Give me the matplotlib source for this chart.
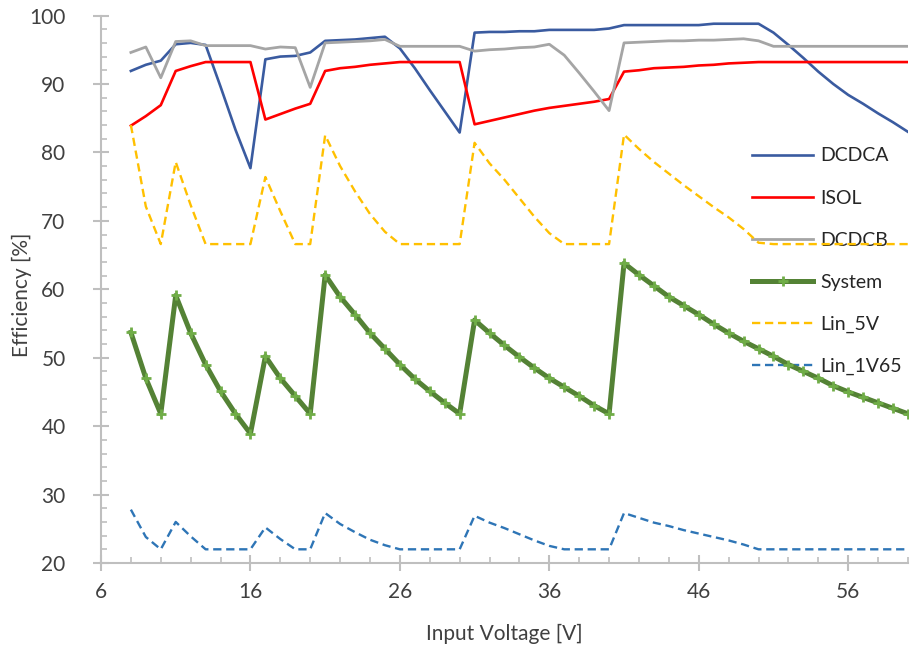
import matplotlib
matplotlib.use("Agg")
import matplotlib.pyplot as plt
from matplotlib.ticker import MultipleLocator, FixedLocator

# Tensão de entrada [V]
input_voltage = [8, 9, 10, 11, 12, 13, 14, 15, 16, 17, 18, 19, 20, 21, 22, 23, 24,
                 25, 26, 27, 28, 29, 30, 31, 32, 33, 34, 35, 36, 37, 38, 39, 40, 41,
                 42, 43, 44, 45, 46, 47, 48, 49, 50, 51, 52, 53, 54, 55, 56, 57, 58,
                 59, 60]

# Eficiências [%]
dcdca = [91.9, 92.8, 93.4, 95.8, 96.0, 95.7, 89.6, 83.3, 77.7, 93.6, 94.0, 94.1, 94.6,
         96.3, 96.4, 96.5, 96.7, 96.9, 95.2, 92.3, 89.1, 86.0, 82.9, 97.5, 97.6, 97.6,
         97.7, 97.7, 97.9, 97.9, 97.9, 97.9, 98.1, 98.6, 98.6, 98.6, 98.6, 98.6, 98.6,
         98.8, 98.8, 98.8, 98.8, 97.5, 95.7, 93.8, 91.8, 90.0, 88.4, 87.1, 85.7, 84.4,
         83.0]
isol = [83.9, 85.3, 86.9, 91.9, 92.6, 93.2, 93.2, 93.2, 93.2, 84.8, 85.6, 86.4, 87.1,
        91.9, 92.3, 92.5, 92.8, 93.0, 93.2, 93.2, 93.2, 93.2, 93.2, 84.1, 84.6, 85.1,
        85.6, 86.1, 86.5, 86.8, 87.1, 87.4, 87.8, 91.8, 92.0, 92.3, 92.4, 92.5, 92.7,
        92.8, 93.0, 93.1, 93.2, 93.2, 93.2, 93.2, 93.2, 93.2, 93.2, 93.2, 93.2, 93.2,
        93.2]
dcdcb = [94.6, 95.4, 90.9, 96.2, 96.3, 95.6, 95.6, 95.6, 95.6, 95.1, 95.4, 95.3, 89.5,
         96.0, 96.1, 96.2, 96.3, 96.5, 95.5, 95.5, 95.5, 95.5, 95.5, 94.8, 95.0, 95.1,
         95.3, 95.4, 95.8, 94.2, 91.6, 88.9, 86.1, 96.0, 96.1, 96.2, 96.3, 96.3, 96.4,
         96.4, 96.5, 96.6, 96.3, 95.5, 95.5, 95.5, 95.5, 95.5, 95.5, 95.5, 95.5, 95.5,
         95.5]
system = [53.7, 47.0, 41.8, 59.1, 53.6, 49.0, 45.1, 41.8, 38.9, 50.2, 47.0, 44.4, 41.8,
          62.1, 58.9, 56.3, 53.6, 51.3, 49.0, 46.9, 45.1, 43.4, 41.8, 55.5, 53.6, 51.8,
          50.1, 48.5, 47.0, 45.7, 44.4, 43.0, 41.8, 63.8, 62.1, 60.5, 58.9, 57.6, 56.3,
          54.9, 53.6, 52.4, 51.3, 50.2, 49.0, 48.0, 47.0, 45.9, 45.0, 44.2, 43.4, 42.6,
          41.8]
lin_5v = [84.0, 72.1, 66.6, 78.6, 72.3, 66.6, 66.6, 66.6, 66.6, 76.4, 71.4, 66.6, 66.6,
          82.5, 78.0, 74.3, 71.0, 68.4, 66.6, 66.6, 66.6, 66.6, 66.6, 81.4, 78.4, 76.0,
          73.3, 70.6, 68.2, 66.6, 66.6, 66.6, 66.6, 82.6, 80.5, 78.6, 76.9, 75.2, 73.6,
          72.0, 70.5, 68.8, 66.8, 66.6, 66.6, 66.6, 66.6, 66.6, 66.6, 66.6, 66.6, 66.6,
          66.6]
lin_1v65 = [27.8, 23.8, 22.0, 26.0, 23.9, 22.0, 22.0, 22.0, 22.0, 25.2, 23.5, 22.0, 22.0,
            27.3, 25.7, 24.5, 23.4, 22.6, 22.0, 22.0, 22.0, 22.0, 22.0, 26.9, 25.9, 25.1,
            24.2, 23.3, 22.5, 22.0, 22.0, 22.0, 22.0, 27.3, 26.6, 25.9, 25.4, 24.8, 24.3,
            23.8, 23.3, 22.7, 22.0, 22.0, 22.0, 22.0, 22.0, 22.0, 22.0, 22.0, 22.0, 22.0,
            22.0]

x_ticks = [6, 16, 26, 36, 46, 56]
y_ticks = [20, 30, 40, 50, 60, 70, 80, 90, 100]

plt.rcParams['font.family'] = ['Lato', 'DejaVu Sans']
cor_texto = '#404040'
cor_eixo = '#BFBFBF'

fig = plt.figure(figsize=(9.14, 6.52), dpi=100)
ax = fig.add_axes([0.1105, 0.1365, 0.8829, 0.8397])

ax.plot(input_voltage, dcdca, color='#3A5BA0', linewidth=1.9, label='DCDCA')
ax.plot(input_voltage, isol, color='#FF0000', linewidth=1.9, label='ISOL')
ax.plot(input_voltage, dcdcb, color='#A5A5A5', linewidth=2.0, label='DCDCB')
ax.plot(input_voltage, system, color='#548235', linewidth=3.6, marker='+',
        markersize=7, markeredgewidth=2, markeredgecolor='#70AD47', label='System')
ax.plot(input_voltage, lin_5v, color='#FFC000', linewidth=1.7,
        linestyle=(0, (3.5, 2)), label='Lin_5V')
ax.plot(input_voltage, lin_1v65, color='#2E75B6', linewidth=1.7,
        linestyle=(0, (3.5, 2)), label='Lin_1V65')

ax.set_xlim(6, 60)
ax.set_ylim(20, 100)
ax.xaxis.set_major_locator(FixedLocator(x_ticks))
ax.xaxis.set_minor_locator(MultipleLocator(2))
ax.yaxis.set_major_locator(FixedLocator(y_ticks))
ax.yaxis.set_minor_locator(MultipleLocator(2))

for spine in ['top', 'right']:
    ax.spines[spine].set_visible(False)
for spine in ['left', 'bottom']:
    ax.spines[spine].set_color(cor_eixo)
    ax.spines[spine].set_linewidth(1.5)

ax.tick_params(axis='both', which='major', direction='inout', length=11,
               width=1.5, color=cor_eixo, labelsize=15, labelcolor=cor_texto)
ax.tick_params(axis='x', which='major', pad=8)
ax.tick_params(axis='y', which='major', pad=20)
ax.tick_params(axis='both', which='minor', direction='in', length=4,
               width=1.2, color=cor_eixo)

ax.set_xlabel('Input Voltage [V]', fontsize=15, color=cor_texto, labelpad=16)
ax.set_ylabel('Efficiency [%]', fontsize=15, color=cor_texto)
ax.yaxis.set_label_coords(-0.086, 0.49)

leg = ax.legend(loc='center left', bbox_to_anchor=(0.8228, 0.599),
                bbox_transform=fig.transFigure, frameon=False, fontsize=14,
                handlelength=3.14, handletextpad=0.36, labelspacing=1.29,
                borderpad=0, borderaxespad=0)
for t in leg.get_texts():
    t.set_color('#262626')
leg.set_zorder(1)

fig.savefig('out.png', dpi=100)
